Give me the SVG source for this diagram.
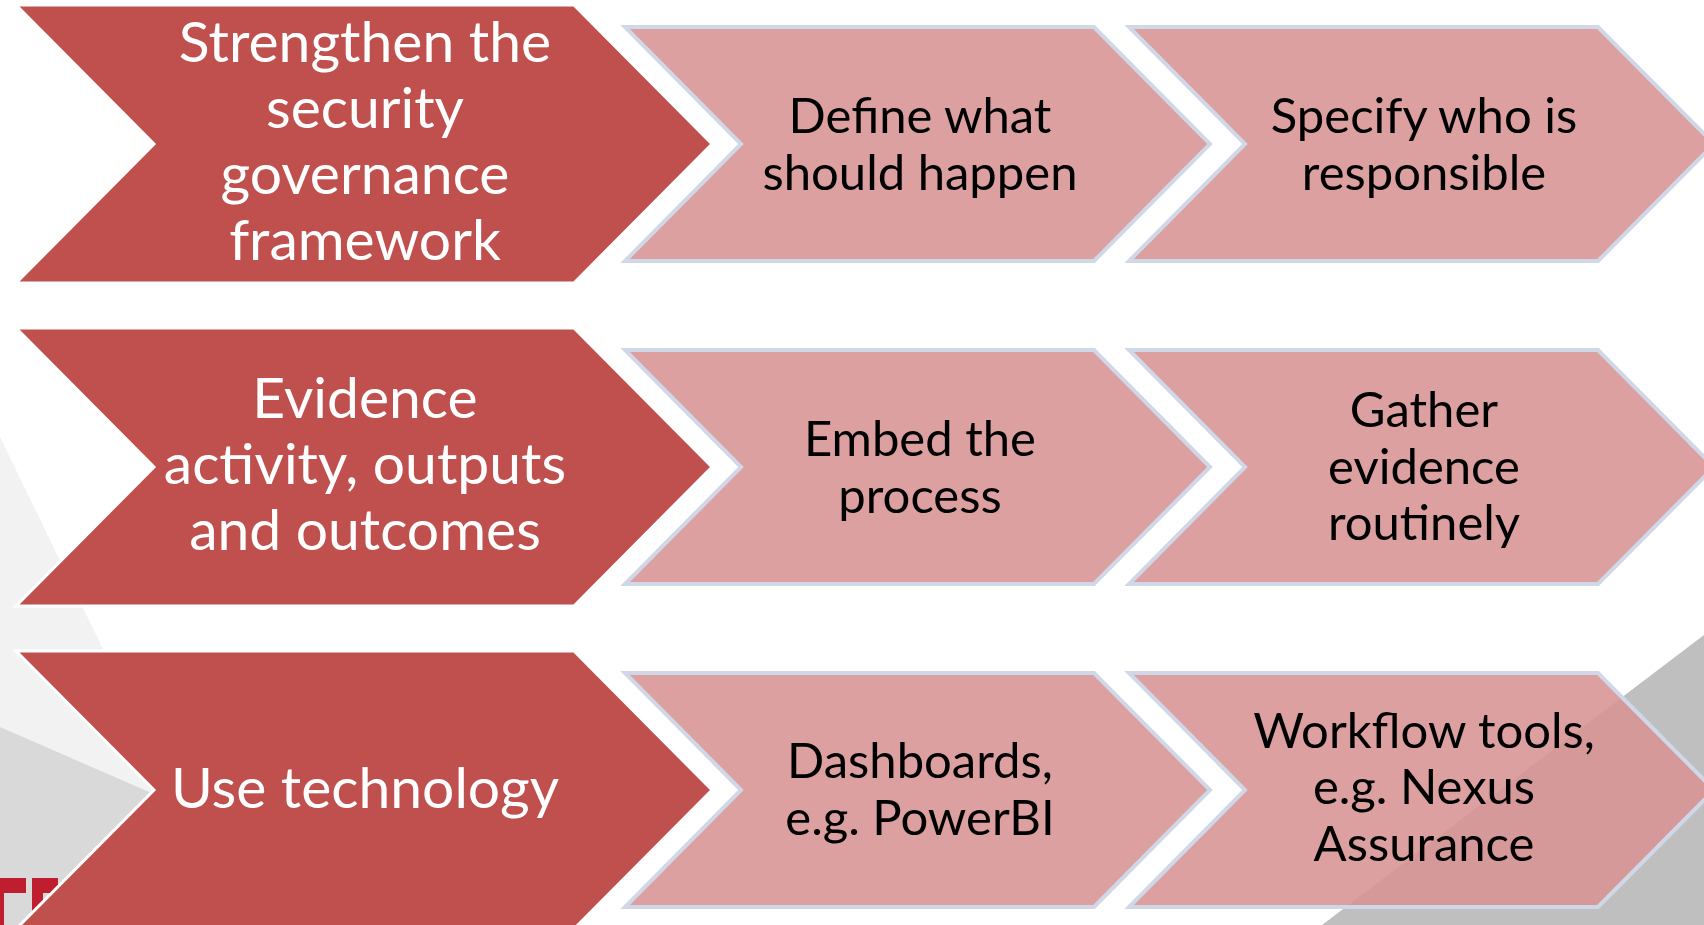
<svg xmlns="http://www.w3.org/2000/svg" width="1704" height="925" viewBox="0 0 1704 925">
<style>
.dark{fill:#c0504d;stroke:#ffffff;stroke-width:3;stroke-linejoin:miter}
.light{fill:#d89494;fill-opacity:0.89;stroke:#d0d8e8;stroke-width:4;stroke-linejoin:miter}
.tw{font-family:Lato,"Liberation Sans",sans-serif;font-size:57px;fill:#ffffff;text-anchor:middle}
.tb{font-family:Lato,"Liberation Sans",sans-serif;font-size:49px;fill:#000000;text-anchor:middle}
</style>
<rect width="1704" height="925" fill="#ffffff"/>
<g id="background">
<polygon points="0,437 237,925 0,925" fill="#f2f2f2"/>
<polygon points="0,727 156,795 20,925 0,925" fill="#d9d9d9"/>
<polygon points="1704,635 1322,925 1704,925" fill="#bfbfbf"/>
<g fill="#be1e2d">
<rect x="0" y="878" width="26" height="15"/>
<rect x="0" y="893" width="4" height="32"/>
<rect x="32" y="878" width="26" height="15"/>
<rect x="32" y="893" width="11" height="32"/>
</g>
</g>
<g id="connectors"/>
<g id="n1">
<polygon class="dark" points="16,5 574,5 712,144 574,283 16,283 154,144"/>
<text class="tw"><tspan x="365" y="62">Strengthen the</tspan><tspan x="365" y="128">security</tspan><tspan x="365" y="194">governance</tspan><tspan x="365" y="260">framework</tspan></text>
</g>
<g id="n2">
<polygon class="light" points="625,27 1094,27 1210,144 1094,261 625,261 741,144"/>
<text class="tb"><tspan x="920" y="133">Define what</tspan><tspan x="920" y="190">should happen</tspan></text>
</g>
<g id="n3">
<polygon class="light" points="1129,27 1598,27 1714,144 1598,261 1129,261 1245,144"/>
<text class="tb"><tspan x="1424" y="133">Specify who is</tspan><tspan x="1424" y="190">responsible</tspan></text>
</g>
<g id="n4">
<polygon class="dark" points="16,328 574,328 712,467 574,606 16,606 154,467"/>
<text class="tw"><tspan x="365" y="418">Evidence</tspan><tspan x="365" y="484">activity, outputs</tspan><tspan x="365" y="550">and outcomes</tspan></text>
</g>
<g id="n5">
<polygon class="light" points="625,350 1094,350 1210,467 1094,584 625,584 741,467"/>
<text class="tb"><tspan x="920" y="456">Embed the</tspan><tspan x="920" y="513">process</tspan></text>
</g>
<g id="n6">
<polygon class="light" points="1129,350 1598,350 1714,467 1598,584 1129,584 1245,467"/>
<text class="tb"><tspan x="1424" y="427">Gather</tspan><tspan x="1424" y="484">evidence</tspan><tspan x="1424" y="540">routinely</tspan></text>
</g>
<g id="n7">
<polygon class="dark" points="16,651 574,651 712,790 574,929 16,929 154,790"/>
<text class="tw"><tspan x="365" y="808">Use technology</tspan></text>
</g>
<g id="n8">
<polygon class="light" points="625,673 1094,673 1210,790 1094,907 625,907 741,790"/>
<text class="tb"><tspan x="920" y="778">Dashboards,</tspan><tspan x="920" y="835">e.g. PowerBI</tspan></text>
</g>
<g id="n9">
<polygon class="light" points="1129,673 1598,673 1714,790 1598,907 1129,907 1245,790"/>
<text class="tb"><tspan x="1424" y="748">Workflow tools,</tspan><tspan x="1424" y="804">e.g. Nexus</tspan><tspan x="1424" y="861">Assurance</tspan></text>
</g>
</svg>
